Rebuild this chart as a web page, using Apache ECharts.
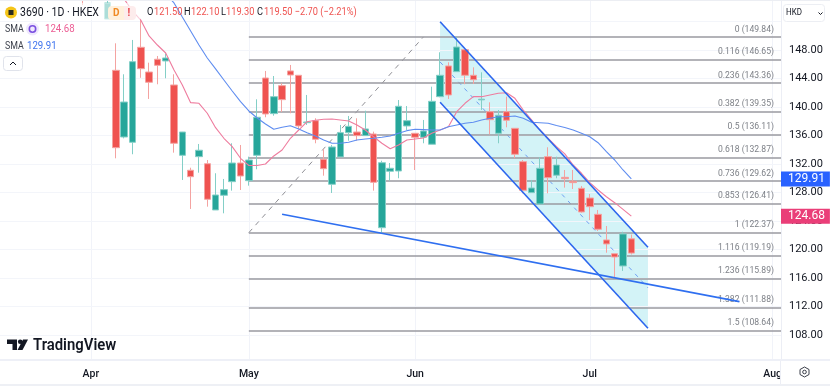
<!DOCTYPE html>
<html><head><meta charset="utf-8">
<style>html,body{margin:0;padding:0;background:#fff}#c{width:830px;height:388px}</style>
<script src="https://cdn.jsdelivr.net/npm/echarts@6/dist/echarts.min.js"></script>
</head><body><div id="c"></div>
<script>
const slotCount = 95;
const firstCandle = 10;
// open, high, low, close per daily session, starting at slot 10
const opens = [155.99,null,null,152.35,145.15,135.79,135.05,148.38,144.91,146.70,146.46,143.09,133.22,131.12,133.03,132.04,125.55,127.61,129.52,132.14,129.66,133.22,144.07,139.07,143,145.06,144.45,137.8,138.08,132.66,129.15,133,136.4,136.49,135.98,136.21,123.06,130.98,131.02,137.34,136.31,135.75,134.77,141.45,145.76,144.96,148.04,144.45,141.0,139.34,136.31,139.34,137.01,132.33,127.98,126.39,133.03,130.42,130.13,129.58,128.59,127.23,124.94,121.34,119.41,117.69,121.5];
const highs = [156,null,null,155.5,148.94,144.59,149.41,152.2,146.22,147.16,147.54,144.59,136.5,131.48,134.81,132.56,130.70,129.90,134.91,134.67,133.03,141.08,145.06,144.35,143.33,145.9,144.49,141.69,138.42,134.07,134.67,137.48,138.74,138.42,139.48,136.54,132.46,132.14,140.98,140.14,136.31,138.18,142.85,147.68,146.28,149.87,148.24,145.57,144.87,140.66,139.58,141.45,137.01,132.56,129.76,132.94,134.35,133.03,131.16,131.16,128.92,127.79,125.55,123.3,119.41,122.5,122.1];
const lows = [154.3,null,null,152.35,132.80,135.6,133.37,144.1,141.13,143.19,144.03,133.59,129.76,125.69,130.78,126.01,125.55,125.08,128.26,128.35,128.96,131.26,138.56,138.78,139.30,139.12,136.92,137.48,134.91,130.36,127.93,133,135.27,135.27,135.98,128.26,122.32,129.66,130,136.78,131.16,134.91,134.77,141.36,141.13,144.96,143.19,143.23,139.58,136.17,134.91,137.15,132.8,127.89,127.93,126.25,127.89,130,128.68,128.49,125.17,124.14,122.6,119.55,115.96,116.99,119.3];
const closes = [155.5,null,null,154.6,134.29,140.70,146.36,145.38,143.47,145.85,146.88,134.91,136.49,130.22,133.93,127.05,127.65,128.40,132.14,130.32,132.56,138.56,139.02,141.45,141.03,144.49,137.34,137.9,135.47,131.34,134.39,136.4,137.29,135.98,136.92,129.43,132.18,131.4,140.1,138.08,135.75,136.63,140.8,144.45,141.69,148.42,144.45,143.83,141.1,138.22,138.84,138.14,133.36,128.31,128.63,131.4,130.08,131.86,129.94,129.38,125.27,126.01,122.84,120.78,118.95,122.18,119.5];
// SMA values, starting at slot 15
const smaPinkStart = 15;
const smaPink = [155.16,153.48,152.21,149.97,148.70,147.58,145.2,143.09,140.61,140.52,139.12,137.10,135.61,134.43,132.80,131.79,131.8,132.0,133.13,133.97,135.61,136.77,137.94,138.14,138.28,138.32,138.18,138.04,137.48,136.77,135.83,134.91,134.15,134.67,135.37,135.51,135.65,136.31,136.77,137.24,139.34,140.52,141.45,141.45,141.69,141.93,142.01,141.22,139.58,138.18,136.77,135.61,134.43,133.41,131.86,130.70,129.38,128.35,127.41,126.57,125.64,124.68];
// SMA values, starting at slot 20
const smaBlueStart = 20;
const smaBlue = [155.9,154.60,152.63,150.67,148.70,146.88,145.34,143.79,142.25,140.75,139.44,138.46,137.62,136.87,137.15,137.38,136.91,136.40,135.93,135.37,134.91,134.91,135.05,135.37,135.51,135.61,135.75,135.93,136.31,136.68,136.87,136.83,136.77,136.77,137.24,137.48,137.71,137.86,138.18,138.42,138.64,138.64,138.74,138.42,137.86,137.80,137.71,137.41,137.13,136.77,136.31,135.83,134.99,133.73,132.56,131.16,129.91];
const fibLevels = ["0","0.116","0.236","0.382","0.5","0.618","0.736","0.853","1","1.116","1.236","1.382","1.5"];
const fibPrices = [149.84,146.65,143.36,139.35,136.11,132.87,129.62,126.41,122.37,119.19,115.89,111.88,108.64];
const fibStart = 30, fibEnd = 94;
const fibDiagonal = [[30,122.37],[51,149.84]];
const channelUpper = [[53,151.97],[78,120.31]];
const channelLower = [[53,140.66],[78,108.94]];
const channelMiddle = [[53,146.32],[78,114.62]];
const fanLine = [[34,124.94],[89,112.68]];
const monthSlots = [11,30,50,71,93];
const monthLabels = ["Apr","May","Jun","Jul","Aug"];
const priceMin = 104, priceMax = 156, priceStep = 4;
const hiddenTicks = [104,152,156];
const symbolText = "3690 · 1D · HKEX";

const UI = '"Roboto","Liberation Sans",sans-serif';
const RED='#ef5350', TEAL='#26a69a', RED_W='#f4a3a1', TEAL_W='#84cfc7', BLUE='#2c66ee';
const categories = Array.from({length:slotCount},(_,i)=>String(i));
const pad = (start,arr)=>{const o=new Array(slotCount).fill(null);arr.forEach((v,i)=>o[start+i]=v);return o;};
const candles = new Array(slotCount).fill(null).map(()=>['-','-','-','-']);
opens.forEach((o,i)=>{ if(o!==null) candles[firstCandle+i]=[o,closes[i],lows[i],highs[i]]; });
const seg = (data,color,width,z,type,opacity)=>({type:'line',data,symbol:'none',silent:true,z,clip:true,animation:false,
  lineStyle:{color,width,type:type||'solid',opacity:opacity==null?1:opacity}});
const txt=(x,y,text,fill,size,o)=>{o=o||{};return {type:'text',z:50,x,y,scaleX:o.scale||0.84,style:{x:0,y:0,text,fill,font:`${o.weight||'normal'} ${size}px ${UI}`,textVerticalAlign:'middle'}};};

const option={
  animation:false,backgroundColor:'#fff',
  grid:{left:-0.6,width:781.6,top:-7,height:370.5,show:false,outerBoundsMode:'none',containLabel:false},
  xAxis:{type:'category',data:categories,boundaryGap:false,z:1,
    axisLine:{show:false},axisTick:{show:false},
    splitLine:{show:true,lineStyle:{color:'#f1f3f9',width:1},interval:(i)=>monthSlots.includes(i)},
    axisLabel:{show:true,margin:5,interval:(i)=>monthSlots.includes(i),color:'#131722',fontSize:10.5,fontFamily:UI,fontWeight:500,
      hideOverlap:false,alignMinLabel:'center',alignMaxLabel:'center',
      formatter:(v)=>{const k=monthSlots.indexOf(+v);return k<0?'':monthLabels[k];}}},
  yAxis:{type:'value',position:'right',min:priceMin,max:priceMax,interval:priceStep,scale:false,z:3,
    axisLine:{show:true,lineStyle:{color:'#eceef5',width:1}},axisTick:{show:false},
    splitLine:{show:true,lineStyle:{color:'#f3f5fa',width:1}},
    axisLabel:{margin:8,color:'#131722',fontSize:11,fontFamily:UI,
      formatter:(v)=>hiddenTicks.includes(v)?'':v.toFixed(2)}},
  series:[
    {type:'custom',silent:true,z:1,clip:true,data:[[channelUpper[0][0],channelUpper[0][1],channelLower[0][1]],[channelUpper[1][0],channelUpper[1][1],channelLower[1][1]]],
      encode:{x:0,y:[1,2]},
      renderItem:(p,api)=>{
        if(p.dataIndex!==0) return;
        const pts=[api.coord([channelUpper[0][0],channelUpper[0][1]]),api.coord([channelUpper[1][0],channelUpper[1][1]]),api.coord([channelLower[1][0],channelLower[1][1]]),api.coord([channelLower[0][0],channelLower[0][1]])];
        return {type:'polygon',shape:{points:pts},style:{fill:'#d3f3f7'}};
      }},
    {type:'line',data:[],silent:true,z:2,markLine:{silent:true,symbol:'none',animation:false,precision:2,
      lineStyle:{color:'#9a9aa0',width:1.5,type:'solid'},
      label:{show:true,position:'insideEndTop',distance:[7,3],color:'#7d8087',fontSize:8.6,fontFamily:UI,
        formatter:(p)=>p.name},
      data:fibPrices.map((v,i)=>[{name:`${fibLevels[i]} (${v.toFixed(2)})`,xAxis:fibStart,yAxis:v},{xAxis:fibEnd,yAxis:v}])}},
    seg(fibDiagonal,'#8f8f95',1,3,[5,5]),
    seg(channelMiddle,BLUE,1,3,[4,5],0.6),
    {type:'candlestick',data:candles,barWidth:7,z:5,clip:true,silent:true,
      itemStyle:{color:TEAL,color0:RED,borderColor:TEAL_W,borderColor0:RED_W,borderWidth:1}},
    Object.assign(seg(pad(smaPinkStart,smaPink),'#ee7c9e',1.1,6),{
      markLine:{silent:true,symbol:'none',animation:false,lineStyle:{color:'transparent',width:1},
        label:{show:true,position:'end',distance:0,formatter:'{c}',color:'#fff',backgroundColor:'#ea3e78',fontSize:12,fontFamily:UI,padding:[2,5,1,7]},
        data:[{yAxis:smaPink[smaPink.length-1]}],precision:2}}),
    Object.assign(seg(pad(smaBlueStart,smaBlue),'#5f8df0',1.1,6),{
      markLine:{silent:true,symbol:'none',animation:false,lineStyle:{color:'transparent',width:1},
        label:{show:true,position:'end',distance:0,formatter:'{c}',color:'#fff',backgroundColor:'#2962ff',fontSize:12,fontFamily:UI,padding:[2,5,1,7]},
        data:[{yAxis:smaBlue[smaBlue.length-1]}],precision:2}}),
    seg(channelUpper,BLUE,1.6,7),
    seg(channelLower,BLUE,1.6,7),
    seg(fanLine,'#2f6ff0',1.6,7)
  ],
  graphic:{elements:[
    // header veil and chrome
    {type:'rect',z:40,shape:{x:0,y:3,width:140,height:17},style:{fill:'rgba(255,255,255,0.62)'}},
    {type:'rect',z:40,shape:{x:0,y:0,width:830,height:1},style:{fill:'#eceef3'}},
    {type:'rect',z:40,shape:{x:0,y:361,width:780,height:3},style:{fill:'#fff'}},
    {type:'rect',z:40,shape:{x:0,y:359,width:830,height:2},style:{fill:'#eef0f7'}},
    {type:'rect',z:40,shape:{x:780,y:361,width:12,height:23},style:{fill:'#fff'}},
    {type:'rect',z:41,shape:{x:780,y:361,width:1,height:23},style:{fill:'#eceef5'}},
    {type:'rect',z:40,shape:{x:0,y:384,width:830,height:2},style:{fill:'#eef0f5'}},
    {type:'circle',z:50,shape:{cx:11,cy:12.5,r:6},style:{fill:'#f5c518'}},
    {type:'rect',z:51,shape:{x:8.5,y:10,width:5,height:5},style:{fill:'#2b2b1f'}},
    txt(20,12.5,symbolText,'#131722',12.5),
    {type:'rect',z:49,shape:{x:108,y:6,width:16,height:14,r:[4,0,0,4]},style:{fill:'#fff0dc'}},
    txt(113,13,'D','#f08a24',10,{weight:'bold',scale:1}),
    {type:'rect',z:49,shape:{x:124,y:6,width:12,height:14,r:[0,4,4,0]},style:{fill:'#fdecec'}},
    txt(127.5,13,'!','#e8434a',10,{weight:'bold',scale:1}),
    txt(147,12.5,'O','#131722',11),
    txt(154,12.5,'121.50',RED,11),
    txt(184,12.5,'H','#131722',11),
    txt(191,12.5,'122.10',RED,11),
    txt(221,12.5,'L','#131722',11),
    txt(226,12.5,'119.30',RED,11),
    txt(257,12.5,'C','#131722',11),
    txt(264,12.5,'119.50 −2.70 (−2.21%)',RED,11),
    txt(5,29,'SMA','#3b3f4a',10.5),
    {type:'circle',z:49,shape:{cx:32.5,cy:29,r:6.5},style:{fill:'#efe8fd'}},
    {type:'ring',z:50,shape:{cx:32.5,cy:29,r:4,r0:2.4},style:{fill:'#7a4fe0'}},
    txt(45,29,'124.68','#ec5c93',11.5),
    txt(5,46,'SMA','#3b3f4a',10.5),
    txt(27,46,'129.91','#3f74ee',11.5),
    {type:'rect',z:50,shape:{x:3.5,y:56.5,width:19,height:14,r:3},style:{fill:'#fff',stroke:'#e0e3eb',lineWidth:1}},
    {type:'polyline',z:51,shape:{points:[[10,65],[13,62],[16,65]]},style:{fill:'none',stroke:'#131722',lineWidth:1}},
    {type:'rect',z:50,shape:{x:783.5,y:4.5,width:41,height:17,r:3},style:{fill:'#fff',stroke:'#eceef3',lineWidth:1}},
    txt(786,13,'HKD','#131722',9.5),
    {type:'polyline',z:51,shape:{points:[[818.5,12.5],[820.5,14.5],[822.5,12.5]]},style:{fill:'none',stroke:'#131722',lineWidth:1}},
    // logo
    {type:'polygon',z:50,shape:{points:[[7,339.5],[17,339.5],[17,350],[12.5,350],[12.5,344],[7,344]]},style:{fill:'#131722'}},
    {type:'circle',z:50,shape:{cx:20.2,cy:341.8,r:2.3},style:{fill:'#131722'}},
    {type:'polygon',z:50,shape:{points:[[23,339.5],[28,339.5],[22.5,350],[17.5,350]]},style:{fill:'#131722'}},
    txt(33,345.5,'TradingView','#131722',16,{weight:'600',scale:0.93}),
    // settings icon
    {type:'polygon',z:50,shape:{points:[[804.5,367],[809,369.5],[809,374.5],[804.5,377],[800,374.5],[800,369.5]]},style:{fill:'none',stroke:'#3b3f4a',lineWidth:1}},
    {type:'circle',z:50,shape:{cx:804.5,cy:372,r:1.8},style:{fill:'none',stroke:'#3b3f4a',lineWidth:1}}
  ]}
};
const chart=echarts.init(document.getElementById('c'),null,{renderer:'canvas'});
chart.setOption(option);
</script></body></html>
